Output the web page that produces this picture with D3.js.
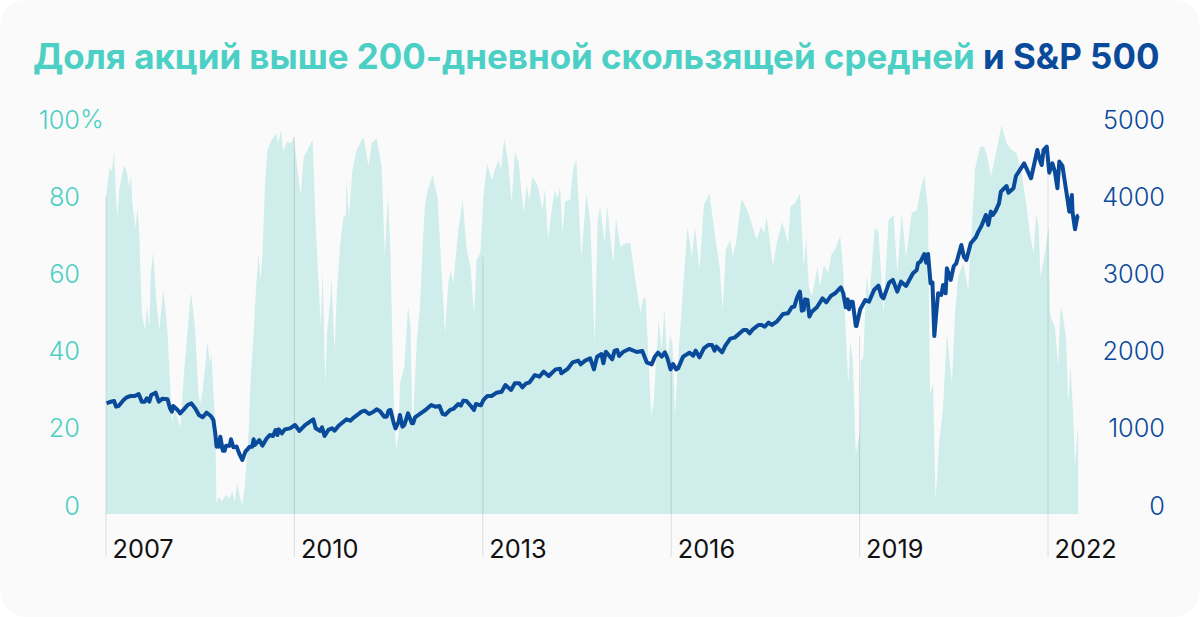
<!DOCTYPE html>
<html>
<head>
<meta charset="utf-8">
<script src="https://cdn.jsdelivr.net/npm/d3@7/dist/d3.min.js"></script>
<style>
  html, body { margin: 0; padding: 0; background: #fff; }
  svg { display: block; font-family: "Inter", sans-serif; }
</style>
</head>
<body>
<div id="chart"></div>
<script>
// share of stocks above the 200-day average, %
var shareYears = [
  2007.00,2007.02,2007.06,2007.09,2007.13,2007.16,2007.18,2007.21,2007.25,2007.29,2007.33,2007.37,2007.40,2007.42,2007.47,2007.50,2007.53,2007.57,2007.62,2007.65,2007.69,2007.71,2007.75,2007.80,2007.85,2007.91,2007.95,2007.98,
  2008.02,2008.05,2008.10,2008.14,2008.18,2008.22,2008.25,2008.30,2008.34,2008.36,2008.42,2008.47,2008.50,2008.54,2008.59,2008.61,2008.66,2008.68,2008.71,2008.74,2008.76,2008.80,2008.84,2008.91,2008.97,
  2009.01,2009.05,2009.09,2009.13,2009.17,2009.21,2009.27,2009.30,2009.35,2009.39,2009.43,2009.46,2009.49,2009.53,2009.57,2009.64,2009.71,2009.74,2009.79,2009.82,2009.88,2009.94,2009.99,
  2010.04,2010.10,2010.15,2010.22,2010.29,2010.34,2010.38,2010.42,2010.45,2010.49,2010.52,2010.57,2010.59,2010.64,2010.67,2010.73,2010.78,2010.82,2010.83,2010.87,2010.92,2010.99,
  2011.10,2011.18,2011.23,2011.31,2011.39,2011.44,2011.49,2011.53,2011.58,2011.62,2011.66,2011.68,2011.75,2011.81,2011.85,2011.88,2011.95,
  2012.00,2012.05,2012.08,2012.13,2012.20,2012.24,2012.28,2012.35,2012.40,2012.45,2012.49,2012.53,2012.61,2012.68,2012.74,2012.81,2012.86,2012.90,2012.96,
  2013.01,2013.07,2013.14,2013.20,2013.25,2013.29,2013.34,2013.40,2013.46,2013.51,2013.57,2013.65,2013.70,2013.74,2013.79,2013.88,2013.95,2013.99,
  2014.04,2014.11,2014.15,2014.19,2014.23,2014.27,2014.31,2014.39,2014.44,2014.49,2014.57,2014.65,2014.71,2014.78,2014.83,2014.87,2014.94,2014.98,
  2015.03,2015.08,2015.12,2015.19,2015.27,2015.35,2015.43,2015.51,2015.55,2015.59,2015.64,2015.68,2015.72,2015.80,2015.85,2015.89,2015.94,2015.98,
  2016.02,2016.06,2016.11,2016.19,2016.26,2016.33,2016.38,2016.45,2016.52,2016.61,2016.70,2016.77,2016.82,2016.87,2016.94,2016.98,
  2017.03,2017.12,2017.23,2017.28,2017.36,2017.43,2017.48,2017.52,2017.62,2017.68,2017.77,2017.86,2017.90,2017.97,
  2018.05,2018.11,2018.15,2018.19,2018.24,2018.33,2018.37,2018.43,2018.50,2018.55,2018.61,2018.69,2018.74,2018.78,2018.82,2018.85,2018.89,2018.94,
  2019.00,2019.02,2019.06,2019.11,2019.16,2019.24,2019.30,2019.38,2019.46,2019.54,2019.60,2019.67,2019.74,2019.83,2019.91,2019.97,
  2020.03,2020.09,2020.12,2020.17,2020.21,2020.27,2020.33,2020.39,2020.47,2020.52,2020.57,2020.65,2020.73,2020.84,2020.92,2020.98,
  2021.03,2021.09,2021.16,2021.26,2021.34,2021.42,2021.50,2021.58,2021.66,2021.71,2021.77,2021.81,2021.85,2021.88,2021.95,
  2022.01,2022.03,2022.06,2022.11,2022.16,2022.20,2022.24,2022.29,2022.32,2022.36,2022.40,2022.43,2022.47,2022.48
];
var shareValues = [
  79.7,82.5,87.7,86.4,91.5,79.9,74.7,81.6,85.1,88.1,86.4,82.5,85.5,78.2,71.9,77.1,70.4,49.7,45.3,51.4,46.2,59.2,65.6,53.1,45.3,55.7,50.5,44.5,
  31.5,21.6,24.6,22.5,19.9,28.9,35.8,45.3,53.1,54.8,45.3,28.9,26.3,29.8,37.6,42.3,36.7,39.3,28.9,22.0,0.4,2.2,0.9,2.6,1.7,
  3.5,0.9,5.6,2.2,0,4.7,18.6,31.5,44.5,56.6,64.8,58.3,64.3,82.5,92.0,94.6,96.3,93.7,97.2,91.5,94.1,93.7,95.4,
  88.1,80.3,90.2,92.4,94.6,72.1,59.2,46.2,60.9,31.5,44.5,53.1,59.2,39.3,53.1,67.8,74.7,75.1,83.8,74.7,86.4,92.0,
  95.4,87.7,93.7,95.0,87.7,64.3,80.7,65.2,27.2,14.2,18.6,31.5,35.8,51.4,46.2,18.6,42.7,
  51.4,69.5,78.2,82.0,85.5,82.5,79.9,58.3,44.5,57.4,60.9,57.4,71.2,79.0,66.9,60.9,48.8,63.5,65.2,
  79.9,88.5,84.2,87.2,89.4,86.8,95.0,89.4,78.2,91.5,88.9,75.6,82.9,79.0,85.1,82.5,76.4,82.0,
  68.7,78.2,81.6,79.4,82.5,70.4,78.6,79.0,87.2,89.4,64.3,80.7,73.8,41.9,73.8,77.3,67.8,77.7,
  69.5,62.6,74.3,66.9,67.8,67.8,58.3,49.7,53.1,54.0,37.6,23.3,26.3,47.9,40.2,50.9,36.7,44.0,
  41.9,22.9,37.6,56.6,72.1,64.3,72.1,60.9,77.7,80.7,69.5,61.7,50.5,66.1,68.7,64.3,
  67.8,79.4,75.6,73.0,68.7,72.1,70.4,74.7,61.7,67.8,73.4,67.8,77.3,78.2,
  80.7,61.7,69.1,56.6,54.0,61.7,56.6,62.2,60.0,64.8,66.1,69.9,60.9,44.5,31.5,42.7,37.6,13.4,
  18.6,37.1,38.4,59.2,54.0,71.7,70.8,49.7,73.8,75.1,60.0,75.6,64.3,75.6,76.4,81.6,
  85.5,76.4,28.9,31.5,1.3,16.8,25.5,44.5,31.5,49.7,59.2,62.6,55.7,87.2,92.8,92.8,
  90.7,85.1,90.2,98.4,93.7,92.0,91.1,85.9,77.3,70.4,65.2,75.6,72.1,59.2,65.2,
  72.0,50.0,47.9,46.2,35.8,51.4,48.8,42.7,26.3,35.8,23.7,9.9,19.4,19.4
];

// S&P 500 close
var spxYears = [
  2007.01,2007.06,2007.13,2007.16,2007.20,2007.28,2007.33,2007.39,2007.46,2007.52,2007.57,2007.62,2007.65,2007.69,2007.72,2007.79,2007.84,2007.90,2007.98,
  2008.02,2008.05,2008.07,2008.14,2008.18,2008.24,2008.30,2008.36,2008.42,2008.48,2008.54,2008.60,2008.67,2008.71,2008.74,2008.76,2008.78,2008.80,2008.82,2008.86,2008.89,2008.91,2008.97,2008.99,
  2009.03,2009.08,2009.12,2009.17,2009.22,2009.29,2009.33,2009.35,2009.37,2009.44,2009.49,2009.56,2009.61,2009.66,2009.70,2009.73,2009.75,2009.80,2009.85,2009.93,
  2010.01,2010.08,2010.17,2010.30,2010.34,2010.41,2010.44,2010.48,2010.54,2010.60,2010.64,2010.70,2010.83,2010.89,2010.95,
  2011.07,2011.12,2011.19,2011.26,2011.31,2011.36,2011.43,2011.47,2011.50,2011.53,2011.58,2011.61,2011.66,2011.68,2011.72,2011.75,2011.81,2011.87,2011.89,2011.92,
  2012.05,2012.10,2012.18,2012.24,2012.31,2012.36,2012.40,2012.48,2012.53,2012.61,2012.65,2012.69,2012.74,2012.81,2012.86,2012.89,2012.97,
  2013.01,2013.07,2013.14,2013.22,2013.30,2013.36,2013.45,2013.51,2013.58,2013.63,2013.69,2013.74,2013.83,2013.90,2013.97,
  2014.05,2014.16,2014.23,2014.25,2014.35,2014.43,2014.52,2014.56,2014.63,2014.71,2014.77,2014.82,2014.89,2014.92,2014.96,
  2015.06,2015.10,2015.14,2015.17,2015.24,2015.33,2015.45,2015.54,2015.61,2015.69,2015.74,2015.79,2015.85,2015.90,2015.94,2015.99,
  2016.03,2016.08,2016.11,2016.19,2016.29,2016.35,2016.39,2016.45,2016.52,2016.59,2016.65,2016.69,2016.72,2016.81,2016.86,2016.94,
  2017.01,2017.15,2017.20,2017.25,2017.30,2017.39,2017.44,2017.49,2017.55,2017.60,2017.68,2017.78,2017.86,2017.92,2017.96,
  2018.00,2018.04,2018.05,2018.08,2018.11,2018.13,2018.17,2018.20,2018.24,2018.32,2018.41,2018.47,2018.54,2018.61,2018.70,2018.74,2018.78,2018.81,2018.83,2018.86,2018.89,2018.94,2018.95,
  2019.01,2019.09,2019.15,2019.23,2019.30,2019.35,2019.38,2019.47,2019.53,2019.60,2019.66,2019.74,2019.85,2019.91,2019.93,2019.97,
  2020.03,2020.06,2020.09,2020.13,2020.16,2020.19,2020.22,2020.25,2020.30,2020.33,2020.37,2020.39,2020.45,2020.50,2020.54,2020.62,2020.66,2020.70,2020.77,2020.85,2020.89,2020.94,
  2021.01,2021.05,2021.09,2021.12,2021.16,2021.22,2021.25,2021.34,2021.37,2021.45,2021.49,2021.62,2021.73,2021.83,2021.87,2021.90,2021.93,2021.98,
  2022.02,2022.07,2022.11,2022.15,2022.18,2022.23,2022.30,2022.34,2022.38,2022.39,2022.43,2022.47,2022.49
];
var spxValues = [
  1317,1334,1347,1274,1282,1360,1395,1412,1412,1438,1339,1339,1382,1339,1425,1455,1339,1377,1369,
  1252,1209,1282,1231,1187,1239,1295,1317,1252,1166,1136,1196,1153,1101,928,756,842,756,885,704,704,769,769,851,
  747,756,669,583,691,756,756,851,777,842,769,864,907,894,972,907,980,928,980,993,
  1036,959,1036,1110,993,959,1006,894,972,993,963,1023,1110,1092,1136,
  1209,1222,1179,1209,1239,1218,1144,1144,1222,1231,1067,993,1080,1166,1015,1036,1187,1058,1058,1136,
  1209,1239,1295,1274,1282,1179,1170,1231,1244,1308,1287,1352,1347,1282,1231,1308,1291,
  1360,1412,1412,1455,1468,1554,1490,1576,1576,1524,1576,1585,1684,1662,1727,
  1671,1757,1766,1706,1762,1848,1870,1822,1870,1900,1757,1921,1956,1835,1986,
  1887,1999,2008,1930,1986,2021,1982,1995,1848,1822,1922,1973,1922,1978,1900,1757,
  1826,1757,1770,1922,1973,1934,1999,1913,2029,2073,2073,1999,2051,1978,2060,2155,
  2168,2267,2267,2224,2276,2332,2332,2310,2362,2332,2375,2474,2483,2561,2569,
  2677,2751,2764,2517,2526,2664,2656,2440,2504,2561,2677,2625,2707,2742,2820,2742,2561,2664,2535,2634,2634,2319,2319,
  2535,2656,2634,2785,2841,2699,2677,2880,2915,2764,2893,2837,3001,3044,3131,3152,
  3251,3139,3251,2871,2880,2189,2483,2742,2720,2850,2742,3066,2915,3096,3131,3368,3217,3174,3390,3467,3541,3614,
  3757,3627,3800,3757,3800,3908,4059,4132,4046,4102,4262,4426,4232,4599,4469,4404,4599,4642,
  4305,4426,4318,4102,4448,4391,4016,3800,4016,3800,3571,3744,3752
];

var titleShare = "Доля акций выше 200-дневной скользящей средней";
var titleSpx = "и S&P 500";

var yearTicks = [2007, 2010, 2013, 2016, 2019, 2022];
var yearTickShare = [80, 95.4, 64.3, 38, 44, 86];   // how high each year line reaches
var shareTicks = [0, 20, 40, 60, 80, 100];
var spxTicks = [0, 1000, 2000, 3000, 4000, 5000];

var width = 1200, height = 617;
var tealText = "#4ccfc4", teal = "#cfeeeb", blue = "#0a4a9b", bg = "#fafafa";
var fillBottom = 514, lineBottom = 557;

var svg = d3.select("#chart").append("svg").attr("width", width).attr("height", height);

svg.append("rect")
    .attr("width", width).attr("height", height)
    .attr("rx", 26)
    .attr("fill", bg);

var x = d3.scaleLinear().domain([2007, 2022]).range([106, 1048]);
var yShare = d3.scaleLinear().domain([0, 100]).range([505, 119]);
var ySpx = d3.scaleLinear().domain([0, 5000]).range([505, 119]);

// title
var title = svg.append("text")
    .attr("x", 33).attr("y", 69)
    .attr("font-size", 34.9)
    .attr("font-weight", 700);
title.append("tspan").attr("fill", tealText).text(titleShare);
title.append("tspan").attr("fill", blue).text(" " + titleSpx);

// share area
var area = d3.area()
    .x(function (d) { return x(d[0]); })
    .y0(fillBottom)
    .y1(function (d) { return yShare(d[1]); });

svg.append("path")
    .datum(d3.zip(shareYears, shareValues))
    .attr("fill", teal)
    .attr("d", area);

// year lines, from the top of the area down to the labels
svg.append("g").selectAll("line")
    .data(d3.zip(yearTicks, yearTickShare))
    .join("line")
    .attr("x1", function (d) { return x(d[0]); })
    .attr("x2", function (d) { return x(d[0]); })
    .attr("y1", function (d) { return yShare(d[1]); })
    .attr("y2", lineBottom)
    .attr("stroke", "#000")
    .attr("stroke-opacity", 0.1)
    .attr("stroke-width", 1.2);

// S&P line
var line = d3.line()
    .x(function (d) { return x(d[0]); })
    .y(function (d) { return ySpx(d[1]); });

svg.append("path")
    .datum(d3.zip(spxYears, spxValues))
    .attr("fill", "none")
    .attr("stroke", blue)
    .attr("stroke-width", 4)
    .attr("stroke-linejoin", "round")
    .attr("d", line);

// axes
var leftAxis = svg.append("g")
    .attr("transform", "translate(80,1)")
    .call(d3.axisLeft(yShare).tickValues(shareTicks).tickSize(0).tickPadding(0));
var rightAxis = svg.append("g")
    .attr("transform", "translate(1165,1)")
    .call(d3.axisLeft(ySpx).tickValues(spxTicks).tickSize(0).tickPadding(0).tickFormat(d3.format("d")));
var bottomAxis = svg.append("g")
    .attr("transform", "translate(0," + fillBottom + ")")
    .call(d3.axisBottom(x).tickValues(yearTicks).tickSize(0).tickFormat(d3.format("d")));

[leftAxis, rightAxis, bottomAxis].forEach(function (g) {
    g.select(".domain").remove();
    g.selectAll("text")
        .attr("font-family", "Inter, sans-serif")
        .attr("font-size", 25.3)
        .attr("font-weight", 400);
});
leftAxis.selectAll("text").attr("fill", tealText).attr("font-weight", 300);
rightAxis.selectAll("text").attr("fill", blue).attr("font-weight", 300);
bottomAxis.selectAll("text")
    .attr("fill", "#111")
    .attr("text-anchor", "start")
    .attr("x", 6)
    .attr("y", 44)
    .attr("dy", 0);

// the % sign hangs outside the number column
leftAxis.append("text")
    .attr("x", 0)
    .attr("y", yShare(100))
    .attr("dy", "0.32em")
    .attr("font-size", 25.3)
    .attr("font-weight", 300)
    .attr("font-family", "Inter, sans-serif")
    .attr("text-anchor", "start")
    .attr("fill", tealText)
    .text("%");
</script>
</body>
</html>
